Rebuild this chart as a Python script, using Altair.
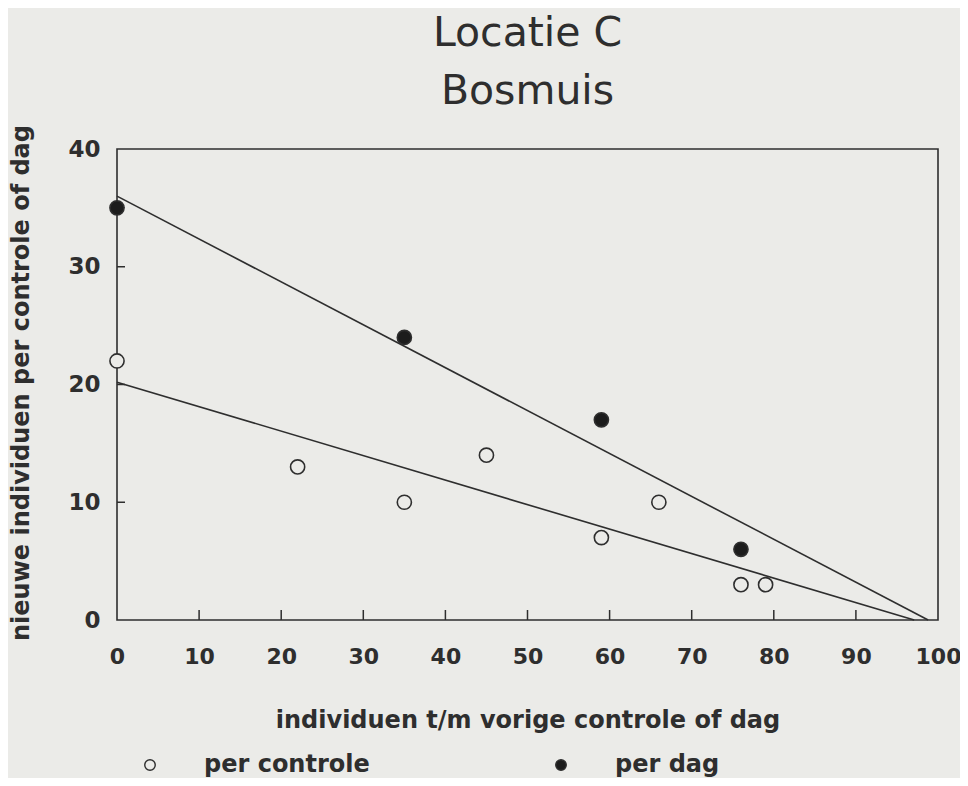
import altair as alt
import pandas as pd

# ---- data ----
x_controle = [0, 22, 35, 45, 59, 66, 76, 79]
y_controle = [22, 13, 10, 14, 7, 10, 3, 3]
x_dag = [0, 35, 59, 76]
y_dag = [35, 24, 17, 6]
fit_controle_x = [0, 97.1]
fit_controle_y = [20.2, 0]
fit_dag_x = [0, 98.8]
fit_dag_y = [36.0, 0]
series = ["per controle", "per dag"]
x_tick_values = [0, 10, 20, 30, 40, 50, 60, 70, 80, 90, 100]
y_tick_values = [0, 10, 20, 30, 40]
inner_x_ticks = [10, 20, 30, 40, 50, 60, 70, 80, 90]
inner_y_ticks = [10, 20, 30]
title_lines = ["Locatie C", "Bosmuis"]
x_title = "individuen t/m vorige controle of dag"
y_title = "nieuwe individuen per controle of dag"

BG = "#ebebe8"
INK = "#2e2e2e"
FONT = "DejaVu Sans"
W, H = 821, 471

points = pd.DataFrame({
    "x": x_controle + x_dag,
    "y": y_controle + y_dag,
    "reeks": [series[0]] * len(x_controle) + [series[1]] * len(x_dag),
})
fits = pd.DataFrame({
    "x": fit_controle_x + fit_dag_x,
    "y": fit_controle_y + fit_dag_y,
    "reeks": [series[0]] * 2 + [series[1]] * 2,
})
xt = pd.DataFrame({"x": inner_x_ticks})
yt = pd.DataFrame({"y": inner_y_ticks})

xscale = alt.Scale(domain=[0, 100], nice=False, zero=False)
yscale = alt.Scale(domain=[0, 40], nice=False)

xaxis = alt.Axis(
    values=x_tick_values, format="d", ticks=False, tickSize=0, domain=False, grid=False,
    labelFont=FONT, labelFontWeight="bold", labelFontSize=22, labelColor=INK,
    labelPadding=26, labelFlush=False,
    title=x_title, titleFont=FONT, titleFontWeight="bold", titleFontSize=24,
    titleColor=INK, titleX=W / 2, titleY=107, titleBaseline="alphabetic",
    titleAlign="center",
)
yaxis = alt.Axis(
    values=y_tick_values, format="d", ticks=False, tickSize=0, domain=False, grid=False,
    labelFont=FONT, labelFontWeight="bold", labelFontSize=23, labelColor=INK,
    labelPadding=17, labelBaseline="middle", labelFlush=False,
    title=y_title, titleFont=FONT, titleFontWeight="bold", titleFontSize=24,
    titleColor=INK, titleX=-96, titleY=H / 2 - 2, titleAngle=-90,
    titleBaseline="middle", titleAlign="center",
)

X = alt.X("x:Q", scale=xscale, axis=xaxis)
Y = alt.Y("y:Q", scale=yscale, axis=yaxis)

lines = alt.Chart(fits).mark_line(color=INK, strokeWidth=1.6).encode(
    x=X, y=Y, detail="reeks:N"
)

xticks = alt.Chart(xt).mark_rule(color=INK, strokeWidth=1.5).encode(
    x=X, y=alt.value(H), y2=alt.value(H - 10)
)
yticks = alt.Chart(yt).mark_rule(color=INK, strokeWidth=1.5).encode(
    y=Y, x=alt.value(0), x2=alt.value(8)
)

pts = alt.Chart(points).mark_point(
    shape="circle", filled=True, size=200, strokeWidth=1.6, opacity=1
).encode(
    x=X, y=Y,
    fill=alt.Fill(
        "reeks:N",
        scale=alt.Scale(domain=series, range=[BG, "#1c1c1c"]),
        legend=alt.Legend(
            title=None, orient="none", legendX=21, legendY=604,
            direction="horizontal", columns=2, columnPadding=179,
            symbolType="circle", symbolSize=110, symbolStrokeColor=INK,
            symbolStrokeWidth=1.4, labelOffset=42, padding=0,
            labelFont=FONT, labelFontWeight="bold", labelFontSize=24,
            labelColor=INK, labelLimit=400,
        ),
    ),
    stroke=alt.value(INK),
)

chart = alt.layer(lines, xticks, yticks, pts).properties(
    width=W, height=H,
    autosize=alt.AutoSizeParams(type="none"),
    padding={"left": 109, "top": 141, "right": 22, "bottom": 158},
    background=BG,
    title=alt.TitleParams(
        text=title_lines, font=FONT, fontSize=41, fontWeight="normal",
        color=INK, lineHeight=58, anchor="middle", baseline="alphabetic",
        offset=47, dy=67,
    ),
).configure_view(stroke=INK, strokeWidth=1.6, fill=None)

chart.save("out.html", embed_options={"renderer": "svg", "actions": False})
